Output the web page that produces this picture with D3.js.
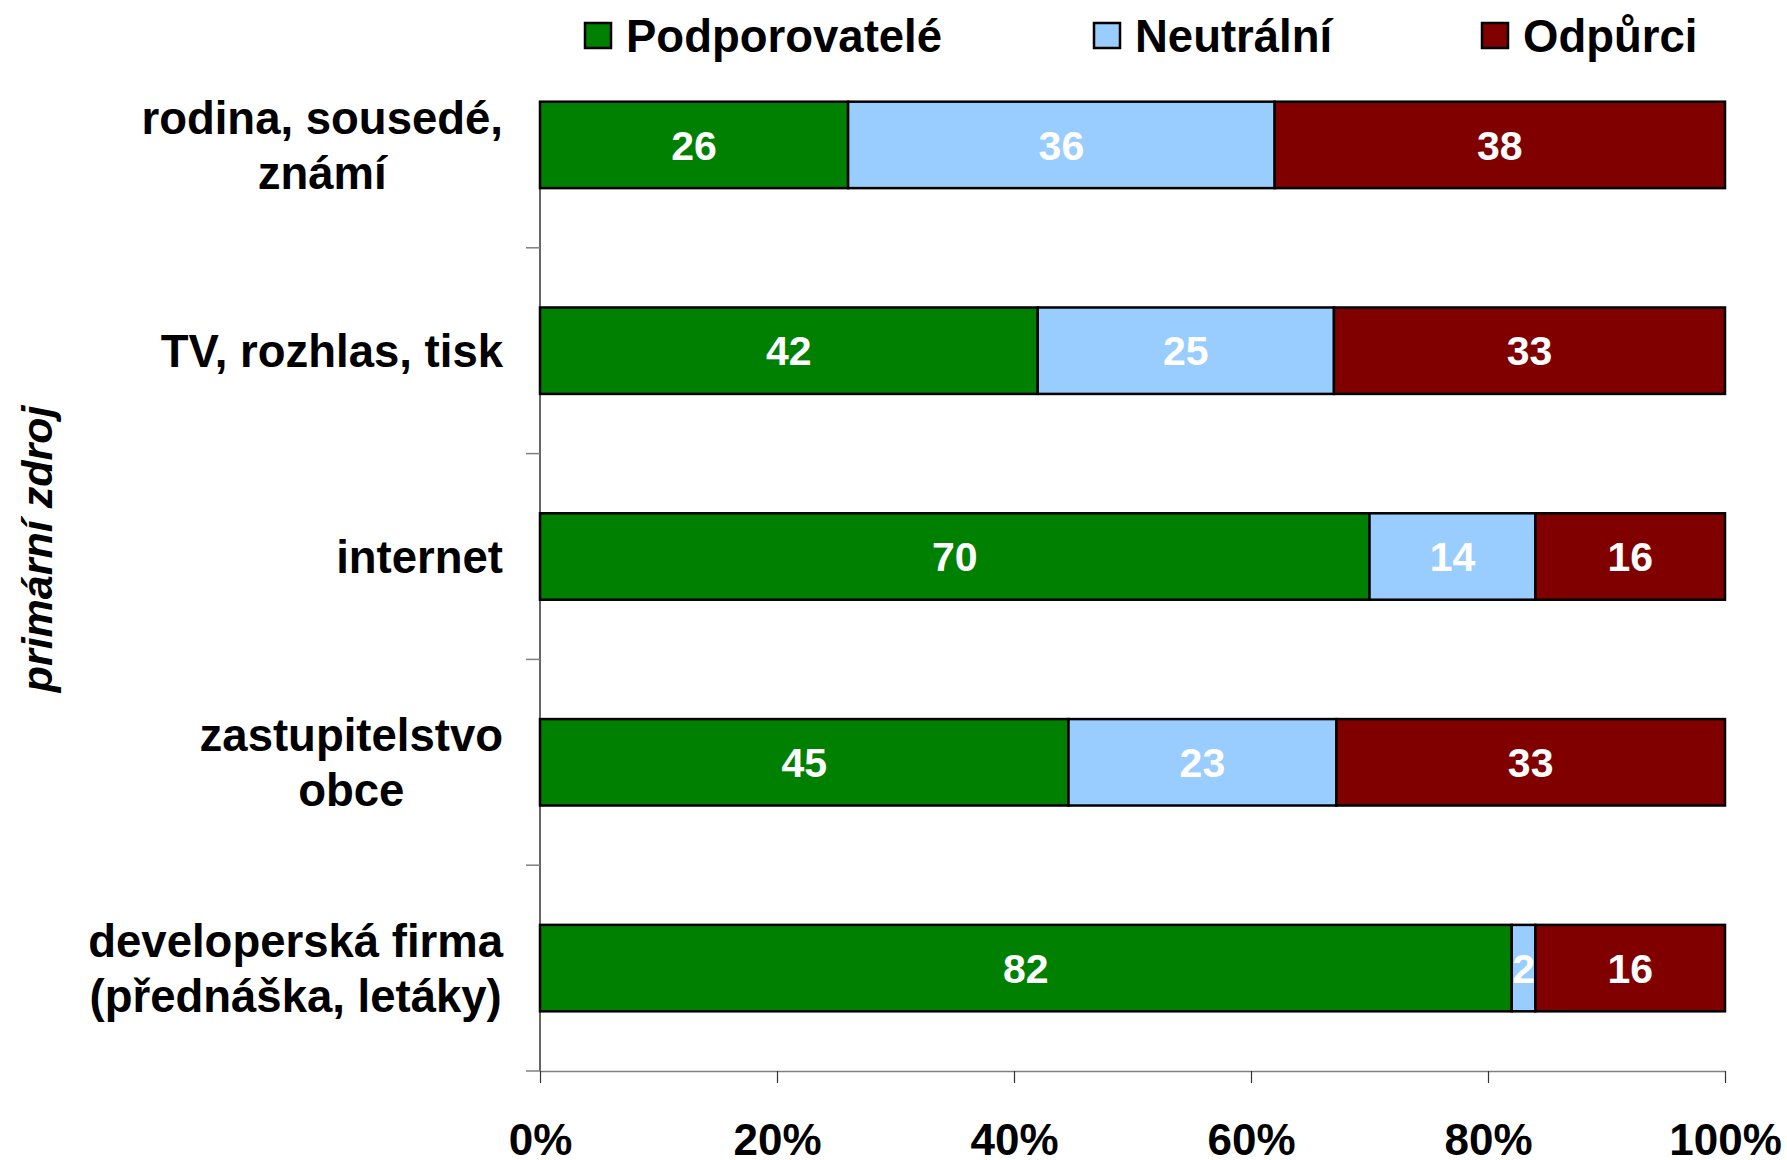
<!DOCTYPE html>
<html>
<head>
<meta charset="utf-8">
<script src="https://cdn.jsdelivr.net/npm/d3@7"></script>
<style>
  body { margin: 0; background: #fff; }
  text { font-family: "Liberation Sans", Arial, sans-serif; font-weight: bold; }
</style>
</head>
<body>
<div id="chart"></div>
<script>
var categories = [
  ['rodina, sousedé,', 'známí'],
  ['TV, rozhlas, tisk'],
  ['internet'],
  ['zastupitelstvo', 'obce'],
  ['developerská firma', '(přednáška, letáky)']
];
var seriesNames = ['Podporovatelé', 'Neutrální', 'Odpůrci'];
var podporovatele = [26, 42, 70, 44.6, 82];
var neutralni = [36, 25, 14, 22.6, 2];
var odpurci = [38, 33, 16, 32.8, 16];
var tickLabels = ['0%', '20%', '40%', '60%', '80%', '100%'];
var colors = ['#008000', '#99CCFF', '#800000'];

var width = 1787;
var height = 1160;

var svg = d3.select('#chart').append('svg')
  .attr('width', width)
  .attr('height', height);

// build rows
var rows = categories.map(function(c, i) {
  return { key: 'c' + i, lines: c, values: [podporovatele[i], neutralni[i], odpurci[i]] };
});

var xScale = d3.scaleLinear()
  .domain([0, 100])
  .range([540, 1725]);

var yScale = d3.scaleBand()
  .domain(rows.map(function(d) { return d.key; }))
  .range([42, 1071])
  .paddingInner(0.58)
  .paddingOuter(0.29);

var step = yScale.step();
var top0 = yScale(rows[0].key);

// y axis line and ticks (at band boundaries)
var yTicks = d3.range(1, rows.length + 1).map(function(i) {
  return yScale.range()[0] + i * step;
});

svg.append('line')
  .attr('x1', xScale(0))
  .attr('x2', xScale(0))
  .attr('y1', top0)
  .attr('y2', 1071)
  .style('stroke', '#333')
  .style('stroke-width', 1.5);

svg.selectAll('.ytick')
  .data(yTicks)
  .enter()
  .append('line')
  .attr('class', 'ytick')
  .attr('x1', xScale(0) - 14)
  .attr('x2', xScale(0))
  .attr('y1', function(d) { return d; })
  .attr('y2', function(d) { return d; })
  .style('stroke', '#808080')
  .style('stroke-width', 1.5);

// x axis
var xAxis = d3.axisBottom(xScale)
  .tickValues([0, 20, 40, 60, 80, 100])
  .tickFormat(function(d, i) { return tickLabels[i]; })
  .tickSizeInner(12)
  .tickSizeOuter(0)
  .tickPadding(41);

var gx = svg.append('g')
  .attr('transform', 'translate(0,1071)')
  .call(xAxis);

gx.select('.domain').style('stroke', '#808080').style('stroke-width', 1.5);
gx.selectAll('.tick line').style('stroke', '#333').style('stroke-width', 1.2);
gx.selectAll('.tick text')
  .style('font-size', '44px')
  .style('font-family', '"Liberation Sans", Arial, sans-serif')
  .style('font-weight', 'bold')
  .style('fill', '#000');

// stacked bars
var stackData = rows.map(function(r) {
  var o = { key: r.key };
  r.values.forEach(function(v, j) { o['s' + j] = v; });
  return o;
});
var stack = d3.stack().keys(['s0', 's1', 's2']);
var series = stack(stackData);

var groups = svg.selectAll('.series')
  .data(series)
  .enter()
  .append('g')
  .attr('class', 'series')
  .style('fill', function(d, i) { return colors[i]; });

groups.selectAll('rect')
  .data(function(d) { return d; })
  .enter()
  .append('rect')
  .attr('x', function(d) { return xScale(d[0]); })
  .attr('y', function(d) { return yScale(d.data.key); })
  .attr('width', function(d) { return xScale(d[1]) - xScale(d[0]); })
  .attr('height', yScale.bandwidth())
  .style('stroke', '#000')
  .style('stroke-width', 2.5);

// value labels
groups.selectAll('.val')
  .data(function(d) { return d; })
  .enter()
  .append('text')
  .attr('class', 'val')
  .attr('x', function(d) { return (xScale(d[0]) + xScale(d[1])) / 2; })
  .attr('y', function(d) { return yScale(d.data.key) + yScale.bandwidth() / 2; })
  .attr('dy', '0.36em')
  .attr('text-anchor', 'middle')
  .style('font-size', '41px')
  .style('fill', '#fff')
  .text(function(d) { return d3.format('.0f')(d[1] - d[0]); });

// category labels: lines centered on each other, block right-aligned
var labelRight = 503;
var lineGap = 55;
rows.forEach(function(r) {
  var cy = yScale(r.key) + yScale.bandwidth() / 2;
  var g = svg.append('g');
  var texts = r.lines.map(function(line, k) {
    return g.append('text')
      .attr('y', cy + (k - (r.lines.length - 1) / 2) * lineGap)
      .attr('dy', '0.36em')
      .attr('text-anchor', 'middle')
      .style('font-size', '45.5px')
      .style('fill', '#000')
      .text(line);
  });
  var maxW = d3.max(texts, function(t) { return t.node().getComputedTextLength(); });
  texts.forEach(function(t) { t.attr('x', labelRight - maxW / 2); });
});

// axis title
svg.append('text')
  .attr('transform', 'translate(52,549) rotate(-90)')
  .attr('text-anchor', 'middle')
  .style('font-size', '43px')
  .style('font-style', 'italic')
  .style('fill', '#000')
  .text('primární zdroj');

// legend
var legendX = [585, 1094, 1482];
var legend = svg.selectAll('.legend')
  .data(seriesNames)
  .enter()
  .append('g')
  .attr('class', 'legend')
  .attr('transform', function(d, i) { return 'translate(' + legendX[i] + ',23)'; });

legend.append('rect')
  .attr('width', 26)
  .attr('height', 25)
  .style('fill', function(d, i) { return colors[i]; })
  .style('stroke', '#000')
  .style('stroke-width', 2.5);

legend.append('text')
  .attr('x', 41)
  .attr('y', 12.5)
  .attr('dy', '0.36em')
  .style('font-size', '45.5px')
  .style('fill', '#000')
  .text(function(d) { return d; });
</script>
</body>
</html>
